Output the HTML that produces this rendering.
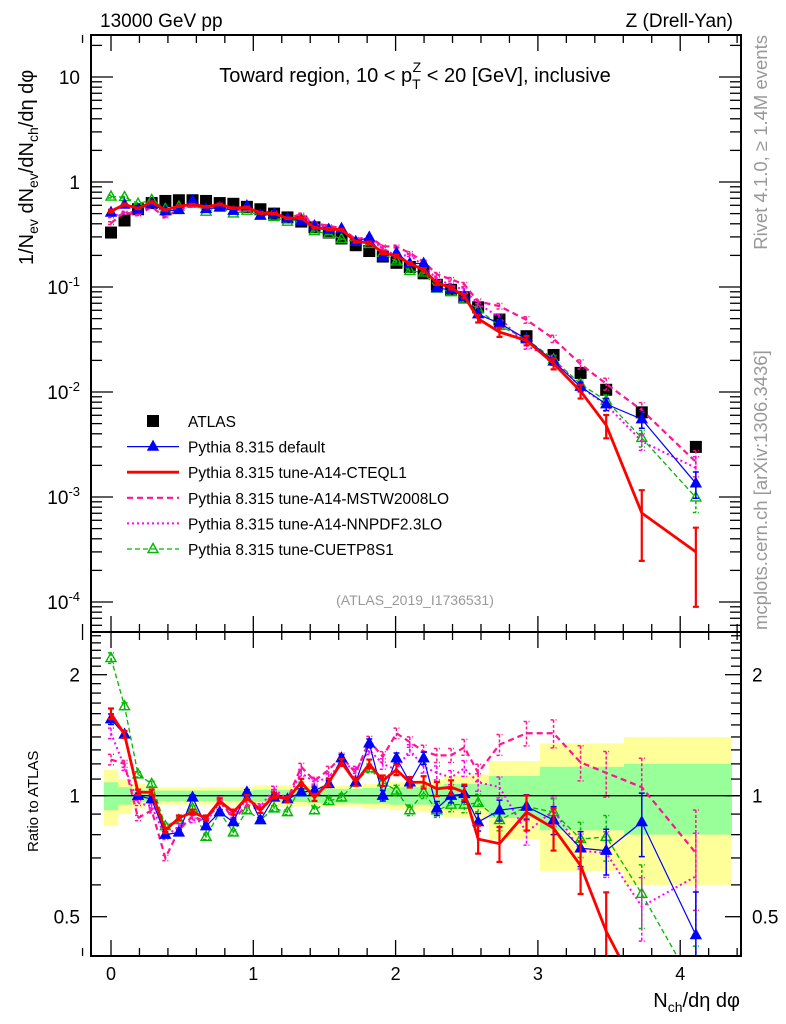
<!DOCTYPE html>
<html><head><meta charset="utf-8"><style>
html,body{margin:0;padding:0;background:#fff;overflow:hidden;width:786px;height:1024px;}
svg{display:block;font-family:"Liberation Sans",sans-serif;}
</style></head><body>
<svg id="chart" width="786" height="1024" viewBox="0 0 786 1024">
<defs>
<clipPath id="clipMain"><rect x="91" y="35" width="650" height="597"/></clipPath>
<clipPath id="clipRatio"><rect x="91" y="632" width="650" height="324"/></clipPath>
</defs>
<g id="bands" clip-path="url(#clipRatio)"></g>
<g id="grid"></g>
<g id="mainMarks" clip-path="url(#clipMain)"></g>
<g id="ratioMarks" clip-path="url(#clipRatio)"></g>
<rect x="91" y="35" width="650" height="597" fill="none" stroke="#000" stroke-width="2"/>
<rect x="91" y="632" width="650" height="324" fill="none" stroke="#000" stroke-width="2"/>
<text x="100" y="27" font-size="19">13000 GeV pp</text>
<text x="733" y="27" font-size="19" text-anchor="end">Z (Drell-Yan)</text>
<text x="415" y="82" font-size="20" text-anchor="middle">Toward region, 10 &lt; p<tspan font-size="14" dy="7">T</tspan><tspan font-size="14" dx="-8" dy="-17">Z</tspan><tspan dy="10"> &lt; 20 [GeV], inclusive</tspan></text>
<text x="415" y="605" font-size="14" fill="#999" text-anchor="middle">(ATLAS_2019_I1736531)</text>
<text transform="translate(767,35) rotate(-90)" font-size="18.5" fill="#999" text-anchor="end">Rivet 4.1.0, ≥ 1.4M events</text>
<text transform="translate(767,630) rotate(-90)" font-size="18.5" fill="#999">mcplots.cern.ch [arXiv:1306.3436]</text>
<text transform="translate(33,265) rotate(-90)" font-size="20">1/N<tspan font-size="14" dy="5">ev</tspan><tspan dy="-5"> dN</tspan><tspan font-size="14" dy="5">ev</tspan><tspan dy="-5">/dN</tspan><tspan font-size="14" dy="5">ch</tspan><tspan dy="-5">/dη dφ</tspan></text>
<text transform="translate(38,852) rotate(-90)" font-size="15">Ratio to ATLAS</text>
<text x="740" y="1007" font-size="20" text-anchor="end">N<tspan font-size="14" dy="5">ch</tspan><tspan dy="-5">/dη dφ</tspan></text>
<g id="legend"></g>
</svg>
<script>
const xs = [0,0.095,0.19,0.286,0.382,0.477,0.573,0.668,0.764,0.86,0.955,1.05,1.146,1.24,1.337,1.43,1.53,1.62,1.72,1.815,1.91,2.006,2.1,2.197,2.29,2.39,2.483,2.58,2.73,2.92,3.11,3.30,3.48,3.73,4.11];
const atlas = [0.33,0.43,0.55,0.63,0.66,0.67,0.67,0.66,0.63,0.62,0.58,0.55,0.50,0.46,0.42,0.37,0.33,0.29,0.25,0.22,0.195,0.17,0.155,0.135,0.105,0.094,0.080,0.064,0.049,0.034,0.0225,0.0152,0.0105,0.0064,0.0030];
const ratioDefault = [1.55,1.42,1.0,0.98,0.80,0.81,0.99,0.84,0.91,0.86,1.02,0.87,0.99,0.98,1.02,1.03,1.07,1.24,1.08,1.35,1.0,1.24,1.08,1.24,0.93,1.0,1.01,0.86,0.92,0.94,0.87,0.74,0.73,0.86,0.45];
const ratioCTEQ = [1.6,1.42,1.02,1.02,0.82,0.88,0.91,0.88,0.97,0.91,0.99,0.92,1.0,0.98,1.08,0.99,1.08,1.21,1.08,1.2,1.09,1.16,1.08,1.08,1.04,1.05,1.02,0.78,0.76,0.91,0.83,0.67,0.46,0.11,0.10];
const ratioMSTW = [1.23,1.2,0.88,0.92,0.70,0.82,0.89,0.86,0.98,0.87,0.95,0.92,1.02,0.98,1.18,1.09,1.16,1.25,1.14,1.37,1.25,1.43,1.36,1.29,1.26,1.26,1.32,1.14,1.34,1.43,1.43,1.21,1.14,1.05,0.72];
const ratioNNPDF = [1.43,1.18,0.96,0.94,0.79,0.84,0.87,0.86,0.96,0.89,0.98,0.94,1.04,0.98,1.14,1.08,1.11,1.21,1.16,1.30,1.20,1.16,1.30,1.18,1.14,1.11,1.17,1.08,1.05,0.81,0.92,0.73,0.72,0.53,0.63];
const ratioCUETP = [2.2,1.67,1.13,1.07,0.84,0.87,0.93,0.79,0.91,0.81,0.92,0.87,0.93,0.91,1.06,0.92,0.97,0.99,1.08,1.17,1.08,1.03,0.92,1.02,0.92,0.95,0.95,0.96,0.87,0.94,0.91,0.78,0.79,0.57,0.33];
const errFrac = [0.03,0.02,0.015,0.015,0.015,0.015,0.015,0.015,0.015,0.015,0.015,0.015,0.015,0.015,0.02,0.02,0.02,0.02,0.02,0.025,0.03,0.03,0.03,0.035,0.04,0.04,0.045,0.05,0.06,0.07,0.08,0.1,0.13,0.18,0.28];
const errFracCTEQ = [0.03,0.02,0.015,0.015,0.015,0.015,0.015,0.015,0.015,0.015,0.015,0.015,0.015,0.015,0.02,0.02,0.02,0.02,0.02,0.025,0.03,0.03,0.03,0.035,0.04,0.04,0.045,0.08,0.1,0.1,0.12,0.15,0.25,0.65,0.7];
const bandYellow = [0.16,0.10,0.07,0.05,0.05,0.05,0.05,0.05,0.05,0.05,0.05,0.06,0.06,0.06,0.06,0.06,0.06,0.06,0.06,0.07,0.07,0.08,0.08,0.09,0.10,0.12,0.12,0.13,0.22,0.22,0.35,0.35,0.35,0.40,0.40];
const bandGreen = [0.08,0.05,0.035,0.03,0.03,0.03,0.03,0.03,0.03,0.03,0.03,0.035,0.035,0.035,0.035,0.04,0.04,0.04,0.04,0.045,0.045,0.05,0.05,0.05,0.06,0.07,0.07,0.07,0.12,0.12,0.18,0.18,0.18,0.20,0.20];
const mainYTicks = [10,1,0.1,0.01,0.001,0.0001];
const mainYLabels = ["10","1","10^-1","10^-2","10^-3","10^-4"];
const ratioYTicks = [0.5,1,2];
const ratioYLabels = ["0.5","1","2"];
const xTicks = [0,1,2,3,4];

const NS = "http://www.w3.org/2000/svg";
const X = v => 111 + 142.3 * v;
const Y = v => Math.min(1000, 182 - 105 * Math.log10(v));
const R = v => Math.min(1000, 795.7 - 121 * Math.log2(v));
function mk(parent, tag, attrs) {
  const e = document.createElementNS(NS, tag);
  for (const k in attrs) e.setAttribute(k, attrs[k]);
  parent.appendChild(e);
  return e;
}
const grid = document.getElementById('grid');
const bands = document.getElementById('bands');
const mainG = document.getElementById('mainMarks');
const ratioG = document.getElementById('ratioMarks');
const legend = document.getElementById('legend');

const edges = [X(-0.05)];
for (let i = 0; i < xs.length - 1; i++) edges.push(X((xs[i] + xs[i + 1]) / 2));
edges.push(X(4.36));
[[bandYellow, '#ffff99'], [bandGreen, '#99ff99']].forEach(([arr, col]) => {
  arr.forEach((h, i) => {
    const r = mk(bands, 'rect', {x: edges[i], width: edges[i + 1] - edges[i] + 0.5, y: R(1 + h), height: R(1 - h) - R(1 + h), fill: col});
    
    
  });
});
const one = mk(bands, 'line', {x1: 91, x2: 741, y1: R(1), y2: R(1), stroke: '#000', 'stroke-width': 1.3});



for (let v = -0.2; v <= 4.41; v += 0.2) {
  const vv = Math.round(v * 10) / 10;
  const major = Math.abs(vv - Math.round(vv)) < 1e-6;
  const L = major ? 16 : 8;
  [[35, 1], [632, -1], [632, 1], [956, -1]].forEach(([y0, d]) => {
    const t = mk(grid, 'line', {x1: X(vv), x2: X(vv), y1: y0, y2: y0 + d * L, stroke: '#000', 'stroke-width': 1.3});
    
    
  });
}
xTicks.forEach(v => {
  const t = mk(grid, 'text', {x: X(v), y: 980, 'font-size': 18, 'text-anchor': 'middle'});
  t.textContent = String(v);
  
  
});
for (let e = -5; e <= 1; e++) {
  for (let m = 1; m <= 9; m++) {
    const v = m * Math.pow(10, e);
    const y = Y(v);
    if (y < 35 || y > 632) continue;
    const L = m === 1 ? 22 : 11;
    [[91, 1], [741, -1]].forEach(([x0, d]) => {
      const t = mk(grid, 'line', {x1: x0, x2: x0 + d * L, y1: y, y2: y, stroke: '#000', 'stroke-width': 1.3});
      
      
    });
  }
}
mainYTicks.forEach((v, i) => {
  const t = mk(grid, 'text', {x: 80, y: Y(v) + 7, 'font-size': 19, 'text-anchor': 'end'});
  const lab = mainYLabels[i];
  if (lab.indexOf('^') >= 0) {
    const p = lab.split('^');
    t.textContent = p[0];
    const s = mk(t, 'tspan', {'font-size': 13, dy: -8});
    s.textContent = p[1];
  } else t.textContent = lab;
  
  
});
for (let k = 4; k <= 25; k++) {
  const v = k / 10;
  const y = R(v);
  if (y < 632 || y > 956) continue;
  const major = (k === 5 || k === 10 || k === 20);
  const L = major ? 16 : 10;
  [[91, 1], [741, -1]].forEach(([x0, d]) => {
    const t = mk(grid, 'line', {x1: x0, x2: x0 + d * L, y1: y, y2: y, stroke: '#000', 'stroke-width': 1.3});
    
    
  });
}
ratioYTicks.forEach((v, i) => {
  [[80, 'end'], [752, 'start']].forEach(([x, a]) => {
    const t = mk(grid, 'text', {x: x, y: R(v) + 7, 'font-size': 19, 'text-anchor': a});
    t.textContent = ratioYLabels[i];
    
    
  });
});

const series = [
  {name: 'cuetp8s1', ratio: ratioCUETP, err: errFrac, color: '#00b800', w: 1.3, dash: '5,3', marker: 'open'},
  {name: 'nnpdf', ratio: ratioNNPDF, err: errFrac, color: '#ff00ff', w: 2, dash: '2,3', marker: null},
  {name: 'mstw', ratio: ratioMSTW, err: errFrac, color: '#ff1493', w: 2.2, dash: '6,4', marker: null},
  {name: 'default', ratio: ratioDefault, err: errFrac, color: '#0000ff', w: 1.2, dash: null, marker: 'filled'},
  {name: 'cteql1', ratio: ratioCTEQ, err: errFracCTEQ, color: '#ff0000', w: 2.8, dash: null, marker: null}
];
function tri(g, cx, cy, col, filled) {
  return mk(g, 'polygon', {points: `${cx},${cy - 5.5} ${cx - 5},${cy + 3.5} ${cx + 5},${cy + 3.5}`, fill: filled ? col : 'none', stroke: col, 'stroke-width': 1.4});
}
atlas.forEach((v, i) => {
  const r = mk(mainG, 'rect', {x: X(xs[i]) - 6, y: Y(v) - 6, width: 12, height: 12, fill: '#000'});
  
  
});
function drawSeries(g, s, yf, valFn) {
  const pts = xs.map((x, i) => [X(x), yf(valFn(i))]);
  const pl = mk(g, 'polyline', {points: pts.map(p => p.join(',')).join(' '), fill: 'none', stroke: s.color, 'stroke-width': s.w});
  if (s.dash) pl.setAttribute('stroke-dasharray', s.dash);
  
  
  xs.forEach((x, i) => {
    const v = valFn(i), e = s.err[i];
    const y1 = yf(v * (1 + e)), y2 = yf(Math.max(v * (1 - e), 1e-9));
    const eb = mk(g, 'path', {d: `M${X(x)},${y1}V${y2}M${X(x) - 3},${y1}h6M${X(x) - 3},${y2}h6`, stroke: s.color, 'stroke-width': s.name === 'cteql1' ? 2.2 : 1.5, fill: 'none'});
    if (s.dash) eb.setAttribute('stroke-dasharray', '3,2');
    
    
    if (s.marker && yf(v) < 990) {
      const m = tri(g, X(x), yf(v), s.color, s.marker === 'filled');
      
      
    }
  });
}
series.forEach(s => {
  drawSeries(mainG, s, Y, i => atlas[i] * s.ratio[i]);
  drawSeries(ratioG, s, R, i => s.ratio[i]);
});

const legItems = [
  ['ATLAS', 'atlas'], ['Pythia 8.315 default', 'default'], ['Pythia 8.315 tune-A14-CTEQL1', 'cteql1'],
  ['Pythia 8.315 tune-A14-MSTW2008LO', 'mstw'], ['Pythia 8.315 tune-A14-NNPDF2.3LO', 'nnpdf'], ['Pythia 8.315 tune-CUETP8S1', 'cuetp8s1']
];
legItems.forEach(([label, key], k) => {
  const y = 421 + k * 25.6;
  const g = mk(legend, 'g', {});
  
  
  if (key === 'atlas') {
    mk(g, 'rect', {x: 147, y: y - 6, width: 12, height: 12, fill: '#000'});
  } else {
    const s = series.find(q => q.name === key);
    const l = mk(g, 'line', {x1: 127, x2: 179, y1: y, y2: y, stroke: s.color, 'stroke-width': s.w});
    if (s.dash) l.setAttribute('stroke-dasharray', s.dash);
    if (s.marker) tri(g, 153, y, s.color, s.marker === 'filled');
  }
  const t = mk(g, 'text', {x: 188, y: y + 6, 'font-size': 15.5});
  t.textContent = label;
});
</script>
</body></html>
